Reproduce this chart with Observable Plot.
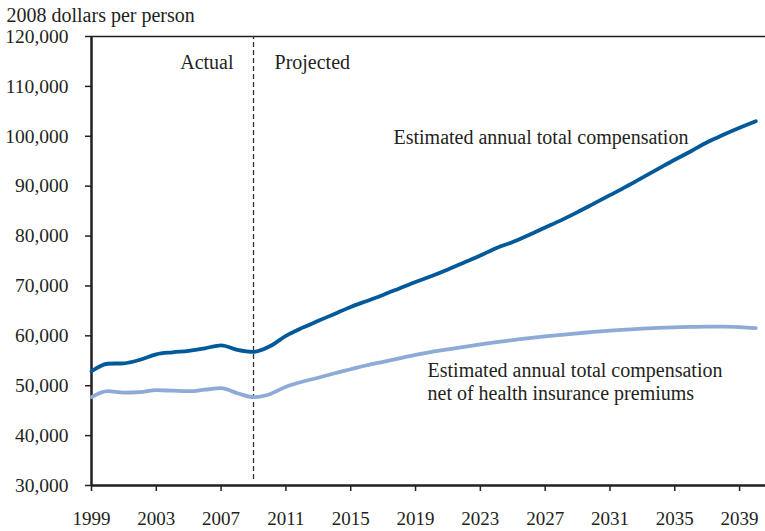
<!DOCTYPE html>
<html>
<head>
<meta charset="utf-8">
<script src="https://cdn.jsdelivr.net/npm/d3@7"></script>
<script src="https://cdn.jsdelivr.net/npm/@observablehq/plot@0.6"></script>
<style>
  html, body { margin: 0; padding: 0; background: #fff; }
  #chart svg { display: block; }
</style>
</head>
<body>
<div id="chart"></div>
<script>
const years = d3.range(1999, 2041);
const totalComp = [
  52900, 54400, 54500, 55200, 56300, 56700, 57000, 57500, 58100, 57200,
  56800, 57900, 60000, 61600, 63000, 64400, 65800, 67000, 68200, 69500,
  70800, 72000, 73300, 74700, 76100, 77600, 78800, 80200, 81700, 83200,
  84800, 86500, 88200, 89900, 91700, 93500, 95300, 97000, 98800, 100300,
  101700, 103000
];
const netComp = [
  47700, 48900, 48600, 48700, 49100, 49000, 48900, 49200, 49500, 48500,
  47700, 48300, 49800, 50800, 51600, 52500, 53300, 54100, 54800, 55500,
  56200, 56800, 57300, 57800, 58300, 58750, 59150, 59550, 59900, 60200,
  60500, 60800, 61050, 61250, 61450, 61600, 61700, 61800, 61850, 61850,
  61750, 61550
];
const xTicks = [1999, 2003, 2007, 2011, 2015, 2019, 2023, 2027, 2031, 2035, 2039];
const yTicks = [30000, 40000, 50000, 60000, 70000, 80000, 90000, 100000, 110000, 120000];
const splitYear = 2009;
const yTitle = "2008 dollars per person";
const labelActual = "Actual";
const labelProjected = "Projected";
const labelTotal = "Estimated annual total compensation";
const labelNet = "Estimated annual total compensation\nnet of health insurance premiums";

const total = years.map((y, i) => ({year: y, value: totalComp[i]}));
const net = years.map((y, i) => ({year: y, value: netComp[i]}));

const ink = "#231f20";
const font = "'Liberation Serif', 'Times New Roman', serif";

const chart = Plot.plot({
  width: 765,
  height: 531,
  marginLeft: 91,
  marginRight: 0,
  marginTop: 36,
  marginBottom: 46,
  style: {fontFamily: font, fontSize: "19px", color: ink, background: "#fff"},
  x: {domain: [1999, 2040.6]},
  y: {domain: [30000, 120000]},
  marks: [
    Plot.axisX({ticks: xTicks, tickFormat: d => String(d), tickSize: 6, tickPadding: 20, label: null, stroke: ink, strokeWidth: 1.5, fontSize: 19}),
    Plot.axisY({ticks: yTicks, tickFormat: d3.format(","), tickSize: 6, tickPadding: 17, label: null, stroke: ink, strokeWidth: 1.5, fontSize: 19.5}),
    Plot.ruleY([120000], {stroke: ink, strokeWidth: 1.5}),
    Plot.ruleY([30000], {stroke: ink, strokeWidth: 2.5}),
    Plot.ruleX([1999], {stroke: ink, strokeWidth: 2.5}),
    Plot.ruleX([splitYear], {y1: 31200, y2: 120000, stroke: "#333", strokeWidth: 1.3, strokeDasharray: "5,3"}),
    Plot.line(net, {x: "year", y: "value", stroke: "#8eaad6", strokeWidth: 3.8, curve: "monotone-x"}),
    Plot.line(total, {x: "year", y: "value", stroke: "#005a9a", strokeWidth: 3.8, curve: "monotone-x"}),
    Plot.text([labelActual], {x: splitYear, y: 114800, dx: -20, textAnchor: "end", fill: ink, fontSize: 20}),
    Plot.text([labelProjected], {x: splitYear, y: 114800, dx: 21, textAnchor: "start", fill: ink, fontSize: 20}),
    Plot.text([labelTotal], {x: 2017.64, y: 99760, textAnchor: "start", fill: ink, fontSize: 20}),
    Plot.text([labelNet], {x: 2019.74, y: 50950, textAnchor: "start", lineHeight: 1.17, fill: ink, fontSize: 20}),
    Plot.text([yTitle], {frameAnchor: "top-left", dx: -85, dy: -21, textAnchor: "start", lineAnchor: "middle", fill: ink, fontSize: 20})
  ]
});
document.getElementById("chart").appendChild(chart);
</script>
</body>
</html>
